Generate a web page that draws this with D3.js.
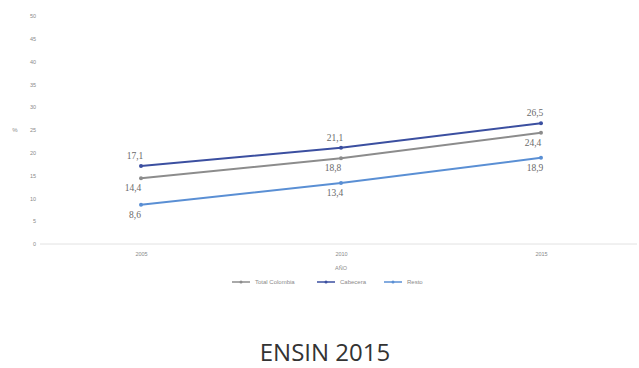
<!DOCTYPE html>
<html>
<head>
<meta charset="utf-8">
<script src="https://cdn.jsdelivr.net/npm/d3@7"></script>
<style>
  body { margin: 0; background: #fff; }
  svg { display: block; }
</style>
</head>
<body>
<div id="chart"></div>
<script>
"use strict";

// data
const years = ["2005", "2010", "2015"];
const totalColombia = [14.4, 18.8, 24.4];
const cabecera = [17.1, 21.1, 26.5];
const resto = [8.6, 13.4, 18.9];
const yTicks = [0, 5, 10, 15, 20, 25, 30, 35, 40, 45, 50];

const width = 639, height = 368;

const svg = d3.select("#chart").append("svg")
    .attr("width", width).attr("height", height);

const x = d3.scalePoint().domain(years).range([141, 541]);
const y = d3.scaleLinear().domain([0, 50]).range([244, 16]);

// series setup
const series = [
  {name: "Total Colombia", values: totalColombia, color: "#8c8c8c", labelDy: 13, labelDx: -8},
  {name: "Cabecera", values: cabecera, color: "#3b4fa0", labelDy: -7, labelDx: -6},
  {name: "Resto", values: resto, color: "#5a8fd4", labelDy: 13, labelDx: -6}
];

// baseline
svg.append("line")
    .attr("x1", 40).attr("x2", 637)
    .attr("y1", y(0)).attr("y2", y(0))
    .attr("stroke", "#e2e2e2").attr("stroke-width", 1);

// y axis labels
const yAxis = d3.axisLeft(y).tickValues(yTicks).tickSize(0).tickPadding(0);
svg.append("g")
    .attr("transform", "translate(36,0)")
    .call(yAxis)
    .call(g => g.select(".domain").remove())
    .selectAll("text")
    .attr("font-family", "Liberation Sans, Arial, sans-serif")
    .attr("font-size", 5.5)
    .attr("fill", "#8a8a8a");

svg.append("text")
    .attr("x", 15).attr("y", y(25) + 2)
    .attr("text-anchor", "middle")
    .attr("font-family", "Liberation Sans, Arial, sans-serif")
    .attr("font-size", 6)
    .attr("fill", "#8a8a8a")
    .text("%");

// x axis labels
const xAxis = d3.axisBottom(x).tickSize(0).tickPadding(8);
svg.append("g")
    .attr("transform", "translate(0," + y(0) + ")")
    .call(xAxis)
    .call(g => g.select(".domain").remove())
    .selectAll("text")
    .attr("font-family", "Liberation Sans, Arial, sans-serif")
    .attr("font-size", 5.5)
    .attr("fill", "#8a8a8a");

svg.append("text")
    .attr("x", x("2010")).attr("y", 270)
    .attr("text-anchor", "middle")
    .attr("font-family", "Liberation Sans, Arial, sans-serif")
    .attr("font-size", 5.5)
    .attr("fill", "#8a8a8a")
    .text("AÑO");

// lines
const line = d3.line()
    .x((d, i) => x(years[i]))
    .y(d => y(d));

series.forEach(function(s) {
  svg.append("path")
      .datum(s.values)
      .attr("fill", "none")
      .attr("stroke", s.color)
      .attr("stroke-width", 2)
      .attr("d", line);

  svg.selectAll(null)
      .data(s.values)
      .enter()
      .append("circle")
      .attr("cx", (d, i) => x(years[i]))
      .attr("cy", d => y(d))
      .attr("r", 2)
      .attr("fill", s.color);

  svg.selectAll(null)
      .data(s.values)
      .enter()
      .append("text")
      .attr("x", (d, i) => x(years[i]) + s.labelDx)
      .attr("y", d => y(d) + s.labelDy)
      .attr("text-anchor", "middle")
      .attr("font-family", "Liberation Serif, Times New Roman, serif")
      .attr("font-size", 9.5)
      .attr("fill", "#6a6a6a")
      .text(d => d3.format(".1f")(d).replace(".", ","));
});

// legend
const legendX = [232, 317, 384];
const legend = svg.append("g").attr("transform", "translate(0,282)");
series.forEach(function(s, i) {
  const g = legend.append("g").attr("transform", "translate(" + legendX[i] + ",0)");
  g.append("line")
      .attr("x1", 0).attr("x2", 18)
      .attr("stroke", s.color).attr("stroke-width", 1.5);
  g.append("circle").attr("cx", 9).attr("r", 1.5).attr("fill", s.color);
  g.append("text")
      .attr("x", 23).attr("y", 2)
      .attr("font-family", "Liberation Sans, Arial, sans-serif")
      .attr("font-size", 6)
      .attr("fill", "#8a8a8a")
      .text(s.name);
});

// title
svg.append("text")
    .attr("x", 325).attr("y", 361)
    .attr("text-anchor", "middle")
    .attr("font-family", "Open Sans, Noto Sans, sans-serif")
    .attr("font-size", 24)
    .attr("fill", "#333")
    .text("ENSIN 2015");
</script>
</body>
</html>
